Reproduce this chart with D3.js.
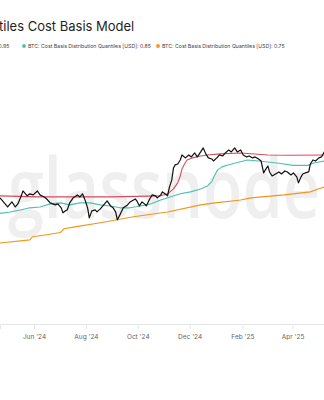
<!DOCTYPE html>
<html><head><meta charset="utf-8">
<script src="https://cdn.jsdelivr.net/npm/d3@7"></script>
<style>
html,body{margin:0;padding:0;background:#fff;}
svg{display:block;}
text{font-family:Inter,"Noto Sans",sans-serif;}
</style></head>
<body>
<script>
// ---- data ----
const priceDates = ["2024-04-22","2024-04-27","2024-05-01","2024-05-06","2024-05-10","2024-05-13","2024-05-17","2024-05-19","2024-05-24","2024-05-27","2024-05-31","2024-06-05","2024-06-08","2024-06-13","2024-06-16","2024-06-20","2024-06-26","2024-06-29","2024-07-03","2024-07-05","2024-07-08","2024-07-10","2024-07-13","2024-07-17","2024-07-22","2024-07-25","2024-07-28","2024-07-31","2024-08-03","2024-08-05","2024-08-08","2024-08-12","2024-08-14","2024-08-18","2024-08-22","2024-08-26","2024-08-30","2024-09-02","2024-09-05","2024-09-07","2024-09-10","2024-09-14","2024-09-19","2024-09-22","2024-09-26","2024-09-28","2024-09-30","2024-10-03","2024-10-06","2024-10-09","2024-10-11","2024-10-15","2024-10-18","2024-10-22","2024-10-24","2024-10-28","2024-10-30","2024-11-02","2024-11-05","2024-11-07","2024-11-10","2024-11-12","2024-11-14","2024-11-17","2024-11-20","2024-11-22","2024-11-26","2024-11-30","2024-12-03","2024-12-07","2024-12-10","2024-12-14","2024-12-17","2024-12-20","2024-12-23","2024-12-27","2024-12-29","2025-01-02","2025-01-05","2025-01-09","2025-01-12","2025-01-16","2025-01-19","2025-01-23","2025-01-26","2025-01-30","2025-02-02","2025-02-06","2025-02-09","2025-02-13","2025-02-16","2025-02-20","2025-02-23","2025-02-26","2025-02-28","2025-03-03","2025-03-05","2025-03-08","2025-03-12","2025-03-16","2025-03-19","2025-03-23","2025-03-26","2025-03-30","2025-04-02","2025-04-06","2025-04-08","2025-04-11","2025-04-13","2025-04-16","2025-04-20","2025-04-22","2025-04-25","2025-04-28","2025-05-02","2025-05-05","2025-05-09"];
const priceValues = [65500,62400,60000,63000,60000,61800,66800,70000,66800,68100,67400,70000,67400,66100,64800,62400,61200,61800,59500,56700,57800,58300,62400,65500,67400,66100,68100,64200,59500,54000,57800,58300,57200,58900,61200,63600,60600,59500,57200,53000,55600,59500,61200,63000,64200,64800,63600,60600,63000,61800,60600,64800,67400,66800,65500,67400,69400,68100,66800,72100,77900,87400,90000,90800,94400,99100,96300,99100,97200,101000,97200,102000,106000,100100,96300,95300,93500,96300,99100,98100,101000,104000,102000,106000,102000,104000,99100,97200,98100,96300,97200,95300,93500,83300,85800,89100,84100,80900,82500,84100,82500,84900,84100,81700,83300,80200,75700,80200,82500,83300,84100,90800,94400,93500,96300,97200,103000];

const q95Dates  = ["2024-04-22","2024-06-05","2024-08-30","2024-10-28","2024-11-05","2024-11-12","2024-11-17","2024-11-20","2024-11-22","2024-11-25","2024-11-28","2024-12-04","2024-12-14","2024-12-22","2025-01-06","2025-01-30","2025-03-03","2025-03-30","2025-05-09"];
const q95Values = [66800,66100,66100,66800,68100,71400,75700,80900,86600,90800,94400,96300,98100,99100,100100,101000,99100,98800,99100];

const q85Dates  = ["2024-04-22","2024-05-04","2024-05-16","2024-05-27","2024-06-08","2024-06-20","2024-07-02","2024-07-13","2024-07-25","2024-08-06","2024-08-18","2024-08-30","2024-09-10","2024-09-22","2024-10-04","2024-10-16","2024-10-28","2024-11-08","2024-11-20","2024-12-02","2024-12-14","2024-12-22","2024-12-27","2024-12-30","2025-01-03","2025-01-08","2025-01-15","2025-01-24","2025-02-07","2025-02-20","2025-03-03","2025-03-18","2025-04-02","2025-04-19","2025-04-26","2025-05-02","2025-05-09"];
const q85Values = [56400,57200,58300,59500,60000,61800,62400,61200,62400,62400,61200,60600,59500,59500,60600,61800,64200,66100,68100,69400,71400,73500,76400,80900,85800,88300,90000,91700,94400,93500,92600,91200,89600,89600,91700,92600,93500];

const q75Dates  = ["2024-04-22","2024-05-27","2024-05-30","2024-06-14","2024-07-02","2024-07-06","2024-07-19","2024-08-18","2024-09-26","2024-11-05","2024-12-14","2024-12-31","2025-01-30","2025-02-11","2025-03-22","2025-04-22","2025-05-01","2025-05-09"];
const q75Values = [42400,43700,45000,45800,46900,48600,49500,51500,54600,57200,61200,62400,64200,65500,67400,69400,71400,72800];

const tickDates  = ["2024-06-01","2024-08-01","2024-10-01","2024-12-01","2025-02-01","2025-04-01"];
const titleText  = "tiles Cost Basis Model";
const legendLabels = ["0.95","BTC: Cost Basis Distribution Quantiles [USD]: 0.85","BTC: Cost Basis Distribution Quantiles [USD]: 0.75"];
const seriesColors = {price:"#111111", q95:"#d84a5f", q85:"#4fc1a9", q75:"#f7931a"};

// ---- chart ----
const W = 324, H = 400;
const parse = d3.utcParse("%Y-%m-%d");
const svg = d3.select("body").append("svg").attr("width", W).attr("height", H);

const x = d3.scaleUtc().domain([parse("2024-04-22"), parse("2025-05-08")]).range([0, W]);
const y = d3.scaleLog().domain([19600, 247500]).range([323, 60]);

// watermark (scaled horizontally to span the plot like the reference)
const wm = svg.append("text")
  .style("font-family", "'Open Sans',Inter,sans-serif").style("font-size", "84px")
  .style("font-weight", 600).attr("fill", "#efefef").text("glassnode");
const wmLen = wm.node().getComputedTextLength();
wm.attr("transform", `translate(8,218) scale(${312 / wmLen},1)`);

// title
svg.append("text").attr("x", -1).attr("y", 31).attr("fill", "#1f1f1f")
  .style("font-size", "13px").style("font-weight", 400).text(titleText);

// legend
const lfs = "5.2px";
const lg = svg.append("g").attr("transform", "translate(0,46)");
lg.append("text").attr("x", -1.5).attr("y", 2).style("font-size", lfs).attr("fill", "#444").text(legendLabels[0]);
const legendItems = [{c: seriesColors.q85, l: legendLabels[1], x: 24}, {c: seriesColors.q75, l: legendLabels[2], x: 158}];
legendItems.forEach(it => {
  lg.append("circle").attr("cx", it.x).attr("cy", 0).attr("r", 1.9).attr("fill", it.c);
  lg.append("text").attr("x", it.x + 4).attr("y", 2).style("font-size", lfs).attr("fill", "#444").text(it.l);
});

// axis
const ax = svg.append("g").attr("transform", "translate(0,324)")
  .call(d3.axisBottom(x).tickValues(tickDates.map(parse)).tickFormat(d3.utcFormat("%b '%y")).tickSize(5).tickPadding(5));
ax.select(".domain").attr("stroke", "#e6e6e6");
ax.selectAll(".tick line").attr("stroke", "#e6e6e6");
ax.selectAll(".tick text").attr("fill", "#666").style("font-size", "6.5px").style("font-family", "Inter,sans-serif");

function drawLine(dates, vals, color, w) {
  const data = dates.map((d, i) => [parse(d), vals[i]]);
  svg.append("path").datum(data)
    .attr("fill", "none").attr("stroke", color).attr("stroke-width", w).attr("stroke-linejoin", "round")
    .attr("d", d3.line().x(d => x(d[0])).y(d => y(d[1])));
}
drawLine(q75Dates, q75Values, seriesColors.q75, 1.1);
drawLine(q85Dates, q85Values, seriesColors.q85, 1.1);
drawLine(q95Dates, q95Values, seriesColors.q95, 1.1);
drawLine(priceDates, priceValues, seriesColors.price, 1.2);
</script>
</body></html>
